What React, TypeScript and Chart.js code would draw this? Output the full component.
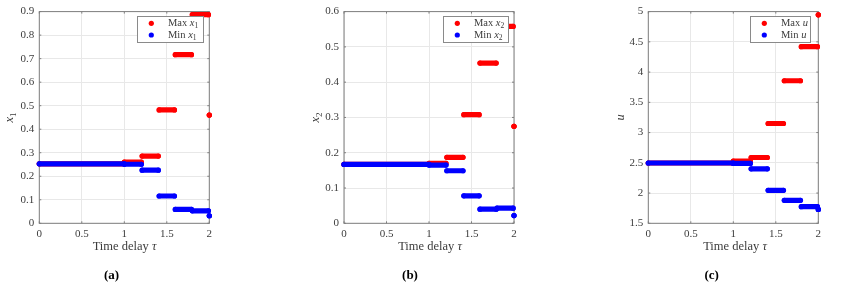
import React, { useEffect, useRef } from 'react';
import { Chart, registerables } from 'chart.js';

Chart.register(...registerables);

// Time-delay segments (tau) shared by all panels
const segStart = [0, 1.0, 1.21, 1.41, 1.6, 1.8, 2.0];
const segEnd = [1.0, 1.2, 1.4, 1.59, 1.79, 1.99, 2.0];

// Panel (a): x1
const x1Max = [0.253, 0.26, 0.286, 0.482, 0.717, 0.887, 0.46];
const x1Min = [0.253, 0.251, 0.226, 0.116, 0.059, 0.053, 0.032];
// Panel (b): x2
const x2Max = [0.167, 0.17, 0.187, 0.308, 0.454, 0.558, 0.275];
const x2Min = [0.167, 0.165, 0.149, 0.078, 0.04, 0.043, 0.022];
// Panel (c): u
const uMax = [2.497, 2.527, 2.588, 3.15, 3.857, 4.42, 4.946];
const uMin = [2.497, 2.49, 2.4, 2.045, 1.88, 1.775, 1.73];

const xTickValues = [0, 0.5, 1, 1.5, 2];
const yTicksA = [0, 0.1, 0.2, 0.3, 0.4, 0.5, 0.6, 0.7, 0.8, 0.9];
const yTicksB = [0, 0.1, 0.2, 0.3, 0.4, 0.5, 0.6];
const yTicksC = [1.5, 2, 2.5, 3, 3.5, 4, 4.5, 5];

const SERIF = '"Liberation Serif", "DejaVu Serif", serif';
const RED = '#ff0000';
const BLUE = '#0000ff';
const AXIS = '#7f7f7f';
const GRID = '#e8e8e8';
const TEXT = '#3c3c3c';

type Part = { t: string; s: 'n' | 'i' | 'sub' | 'b' };

function fontFor(p: Part, size: number) {
  if (p.s === 'i') return `italic ${size}px ${SERIF}`;
  if (p.s === 'sub') return `${(size * 0.72).toFixed(2)}px ${SERIF}`;
  if (p.s === 'b') return `bold ${size}px ${SERIF}`;
  return `${size}px ${SERIF}`;
}

function richWidth(ctx: CanvasRenderingContext2D, parts: Part[], size: number) {
  let w = 0;
  for (const p of parts) {
    ctx.font = fontFor(p, size);
    w += ctx.measureText(p.t).width;
  }
  return w;
}

function drawRich(
  ctx: CanvasRenderingContext2D,
  parts: Part[],
  x: number,
  y: number,
  size: number,
  align: 'left' | 'center',
  color: string
) {
  const w = richWidth(ctx, parts, size);
  let cx = align === 'center' ? x - w / 2 : x;
  ctx.fillStyle = color;
  ctx.textBaseline = 'middle';
  ctx.textAlign = 'left';
  for (const p of parts) {
    ctx.font = fontFor(p, size);
    const dy = p.s === 'sub' ? size * 0.28 : 0;
    ctx.fillText(p.t, cx, y + dy);
    cx += ctx.measureText(p.t).width;
  }
}

function segData(vals: number[]) {
  const d: any[] = [];
  vals.forEach((v, i) => {
    d.push({ x: segStart[i], y: v });
    d.push({ x: segEnd[i], y: v });
    d.push({ x: segEnd[i], y: null });
  });
  return d;
}

const decoPlugin = {
  id: 'deco',
  beforeDatasetsDraw(chart: any) {
    const ctx = chart.ctx as CanvasRenderingContext2D;
    const a = chart.chartArea;
    ctx.save();
    ctx.strokeStyle = AXIS;
    ctx.lineWidth = 1;
    ctx.strokeRect(a.left, a.top, a.right - a.left, a.bottom - a.top);
    const xs = chart.scales.x;
    const ys = chart.scales.y;
    ctx.beginPath();
    for (const t of xs.ticks) {
      const px = xs.getPixelForValue(t.value);
      ctx.moveTo(px, a.bottom);
      ctx.lineTo(px, a.bottom - 2);
      ctx.moveTo(px, a.top);
      ctx.lineTo(px, a.top + 2);
    }
    for (const t of ys.ticks) {
      const py = ys.getPixelForValue(t.value);
      ctx.moveTo(a.left, py);
      ctx.lineTo(a.left + 2, py);
      ctx.moveTo(a.right, py);
      ctx.lineTo(a.right - 2, py);
    }
    ctx.stroke();
    ctx.restore();
  },
  afterDraw(chart: any, _args: any, opts: any) {
    const ctx = chart.ctx as CanvasRenderingContext2D;
    const a = chart.chartArea;
    ctx.save();
    // x title
    drawRich(ctx, [{ t: 'Time delay ', s: 'n' }, { t: 'τ', s: 'i' }], opts.xTitleX, 246.5, 12.5, 'center', TEXT);
    // panel label
    drawRich(ctx, [{ t: '(' + opts.panel + ')', s: 'b' }], opts.panelX, 275.5, 13, 'center', '#000000');
    // y label rotated
    ctx.save();
    ctx.translate(opts.yLabelX, (a.top + a.bottom) / 2);
    ctx.rotate(-Math.PI / 2);
    drawRich(ctx, opts.yParts, 0, 0, 12.5, 'center', TEXT);
    ctx.restore();
    // legend
    const lb = opts.legendBox;
    ctx.fillStyle = '#ffffff';
    ctx.fillRect(lb.left, lb.top, lb.right - lb.left, lb.bottom - lb.top);
    ctx.strokeStyle = '#8a8a8a';
    ctx.lineWidth = 1;
    ctx.strokeRect(lb.left + 0.5, lb.top + 0.5, lb.right - lb.left, lb.bottom - lb.top);
    const rows = [
      { color: RED, parts: [{ t: 'Max ', s: 'n' }, ...opts.varParts] },
      { color: BLUE, parts: [{ t: 'Min ', s: 'n' }, ...opts.varParts] },
    ];
    rows.forEach((r, i) => {
      const cy = lb.top + 7.3 + i * 11.7;
      ctx.beginPath();
      ctx.fillStyle = r.color;
      ctx.arc(lb.left + 14.3, cy, 2.6, 0, Math.PI * 2);
      ctx.fill();
      drawRich(ctx, r.parts as Part[], lb.left + 31, cy, 10.5, 'left', TEXT);
    });
    ctx.restore();
  },
};

type PanelCfg = {
  left: number;
  width: number;
  yAxisWidth: number;
  rightPad: number;
  yMin: number;
  yMax: number;
  yTicks: number[];
  maxVals: number[];
  minVals: number[];
  deco: any;
};

const fmt = (v: any) => String(Math.round(Number(v) * 1000) / 1000);

function Panel({ cfg }: { cfg: PanelCfg }) {
  const ref = useRef<HTMLCanvasElement>(null);
  useEffect(() => {
    if (!ref.current) return;
    const tickFont = { family: SERIF, size: 11 };
    const lineDs = (label: string, vals: number[], color: string) => ({
      label,
      data: segData(vals),
      showLine: true,
      borderColor: color,
      backgroundColor: color,
      borderWidth: 5.2,
      borderCapStyle: 'round',
      borderJoinStyle: 'round',
      pointRadius: 2.6,
      pointBorderWidth: 0,
      pointHoverRadius: 2.6,
      spanGaps: false,
      clip: false,
    });
    const chart = new Chart(ref.current, {
      type: 'scatter',
      data: {
        datasets: [lineDs('Min', cfg.minVals, BLUE), lineDs('Max', cfg.maxVals, RED)] as any,
      },
      options: {
        animation: false,
        responsive: false,
        maintainAspectRatio: false,
        events: [],
        layout: { padding: { left: 0, right: cfg.rightPad, top: 10, bottom: 0 } },
        plugins: {
          legend: { display: false },
          tooltip: { enabled: false },
          deco: cfg.deco,
        } as any,
        scales: {
          x: {
            type: 'linear',
            min: 0,
            max: 2,
            afterBuildTicks: (s: any) => {
              s.ticks = xTickValues.map((v) => ({ value: v }));
            },
            afterFit: (s: any) => {
              s.height = 287 - 223.3;
            },
            ticks: { font: tickFont, color: TEXT, padding: 4, maxRotation: 0, autoSkip: false, callback: fmt },
            grid: { color: GRID, drawTicks: false },
            border: { display: false },
          },
          y: {
            type: 'linear',
            min: cfg.yMin,
            max: cfg.yMax,
            afterBuildTicks: (s: any) => {
              s.ticks = cfg.yTicks.map((v) => ({ value: v }));
            },
            afterFit: (s: any) => {
              s.width = cfg.yAxisWidth;
            },
            ticks: { font: tickFont, color: TEXT, padding: 5, autoSkip: false, callback: fmt },
            grid: { color: GRID, drawTicks: false },
            border: { display: false },
          },
        },
      } as any,
      plugins: [decoPlugin as any],
    });
    return () => chart.destroy();
  }, []);
  return (
    <canvas
      ref={ref}
      width={cfg.width}
      height={287}
      style={{ position: 'absolute', left: cfg.left, top: 0, width: cfg.width, height: 287, display: 'block' }}
    />
  );
}

const panels: PanelCfg[] = [
  {
    left: 0,
    width: 240,
    yAxisWidth: 39.3,
    rightPad: 240 - 209.3,
    yMin: 0,
    yMax: 0.9,
    yTicks: yTicksA,
    maxVals: x1Max,
    minVals: x1Min,
    deco: {
      panel: 'a',
      xTitleX: 124.5,
      panelX: 111.5,
      yLabelX: 10,
      yParts: [{ t: 'x', s: 'i' }, { t: '1', s: 'sub' }],
      varParts: [{ t: 'x', s: 'i' }, { t: '1', s: 'sub' }],
      legendBox: { left: 137, top: 16, right: 203, bottom: 42 },
    },
  },
  {
    left: 290,
    width: 250,
    yAxisWidth: 54,
    rightPad: 250 - 224,
    yMin: 0,
    yMax: 0.6,
    yTicks: yTicksB,
    maxVals: x2Max,
    minVals: x2Min,
    deco: {
      panel: 'b',
      xTitleX: 140,
      panelX: 120,
      yLabelX: 26,
      yParts: [{ t: 'x', s: 'i' }, { t: '2', s: 'sub' }],
      varParts: [{ t: 'x', s: 'i' }, { t: '2', s: 'sub' }],
      legendBox: { left: 153, top: 16, right: 218, bottom: 42 },
    },
  },
  {
    left: 590,
    width: 250,
    yAxisWidth: 58.3,
    rightPad: 250 - 228.3,
    yMin: 1.5,
    yMax: 5,
    yTicks: yTicksC,
    maxVals: uMax,
    minVals: uMin,
    deco: {
      panel: 'c',
      xTitleX: 145,
      panelX: 121.7,
      yLabelX: 31,
      yParts: [{ t: 'u', s: 'i' }],
      varParts: [{ t: 'u', s: 'i' }],
      legendBox: { left: 160, top: 16, right: 220, bottom: 42 },
    },
  },
];

export default function App() {
  return (
    <div style={{ position: 'absolute', left: 0, top: 0, width: 845, height: 287, background: '#ffffff', overflow: 'hidden' }}>
      {panels.map((p, i) => (
        <Panel key={i} cfg={p} />
      ))}
    </div>
  );
}
